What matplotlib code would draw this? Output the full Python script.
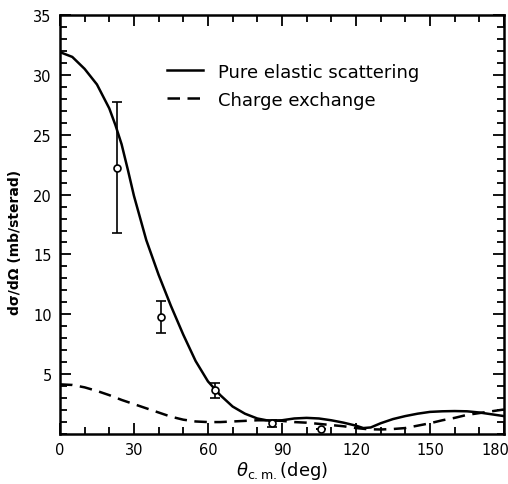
import numpy as np
import matplotlib
matplotlib.use("Agg")
import matplotlib.pyplot as plt
import matplotlib.transforms as mtransforms
from matplotlib.ticker import MultipleLocator

# curves (theta in deg, dsigma/dOmega in mb/sterad)
elastic_theta = [0, 5, 10, 15, 20, 22.5, 25, 27.5, 30, 35, 40, 45, 50, 55, 60, 65, 70,
                 75, 80, 85, 90, 95, 100, 105, 110, 115, 120, 123, 126, 130, 135, 140,
                 145, 150, 155, 160, 165, 170, 175, 180]
elastic_sigma = [31.9, 31.5, 30.5, 29.2, 27.2, 25.8, 24.2, 22.1, 19.9, 16.2, 13.3, 10.7,
                 8.3, 6.1, 4.4, 3.25, 2.3, 1.7, 1.3, 1.1, 1.15, 1.3, 1.35, 1.3, 1.15,
                 0.95, 0.7, 0.5, 0.55, 0.9, 1.25, 1.5, 1.7, 1.85, 1.9, 1.92, 1.9, 1.8,
                 1.65, 1.5]

exchange_theta = [0, 5, 10, 15, 20, 25, 30, 35, 40, 45, 50, 55, 60, 65, 70, 75, 80, 85,
                  90, 95, 100, 105, 110, 115, 120, 125, 130, 135, 140, 145, 150, 155,
                  160, 165, 170, 175, 180]
exchange_sigma = [4.15, 4.1, 3.9, 3.6, 3.25, 2.85, 2.5, 2.15, 1.8, 1.45, 1.2, 1.05,
                  1.0, 1.0, 1.05, 1.1, 1.15, 1.15, 1.1, 1.0, 0.95, 0.85, 0.75, 0.65,
                  0.5, 0.4, 0.38, 0.42, 0.5, 0.7, 0.9, 1.15, 1.35, 1.6, 1.75, 1.9, 2.05]

# measured points
data_theta = [23, 41, 63, 86, 106]
data_sigma = [22.2, 9.8, 3.7, 0.9, 0.45]
err_low = [5.4, 1.4, 0.7, 0.3, 0.0]
err_high = [5.5, 1.3, 0.6, 0.3, 0.0]

fig = plt.figure(figsize=(5.08, 4.85), dpi=100)
ax = fig.add_axes([0.118, 0.103, 0.874, 0.864])

ax.plot(elastic_theta, elastic_sigma, color="black", lw=1.8, label="Pure elastic scattering")
ax.plot(exchange_theta, exchange_sigma, color="black", lw=1.8, ls=(0, (5, 3)),
        label="Charge exchange")
ax.errorbar(data_theta, data_sigma, yerr=[err_low, err_high], fmt="o", color="black",
            mfc="white", mec="black", ms=5, mew=1.2, elinewidth=1.2, capsize=3.5,
            capthick=1.2, zorder=5)

ax.set_xlim(0, 180)
ax.set_ylim(0, 35)
ax.set_xticks([0, 30, 60, 90, 120, 150, 180])
ax.set_yticks([5, 10, 15, 20, 25, 30, 35])
ax.xaxis.set_minor_locator(MultipleLocator(10))
ax.yaxis.set_minor_locator(MultipleLocator(1))
ax.tick_params(which="both", direction="in", top=True, right=True, width=1.3,
               labelsize=10.5, pad=6)
ax.tick_params(which="major", length=8)
ax.tick_params(which="minor", length=5)
for s in ax.spines.values():
    s.set_linewidth(1.8)

# last x label sits right at the figure edge, nudge it in a bit
last = ax.get_xticklabels()[-1]
last.set_transform(last.get_transform() +
                   mtransforms.ScaledTranslation(-9 / 100, 0, fig.dpi_scale_trans))

ax.set_ylabel("dσ/dΩ (mb/sterad)", fontsize=10, fontweight="bold")
ax.yaxis.set_label_coords(-0.085, 0.46)
ax.set_xlabel(r"$\theta_{\rm c.m.}$(deg)", fontsize=13, labelpad=1)

ax.legend(loc="upper left", bbox_to_anchor=(0.205, 0.925), frameon=False, fontsize=13,
          handlelength=2.0, handletextpad=0.8, labelspacing=0.55)

fig.savefig("out.png", dpi=100)
